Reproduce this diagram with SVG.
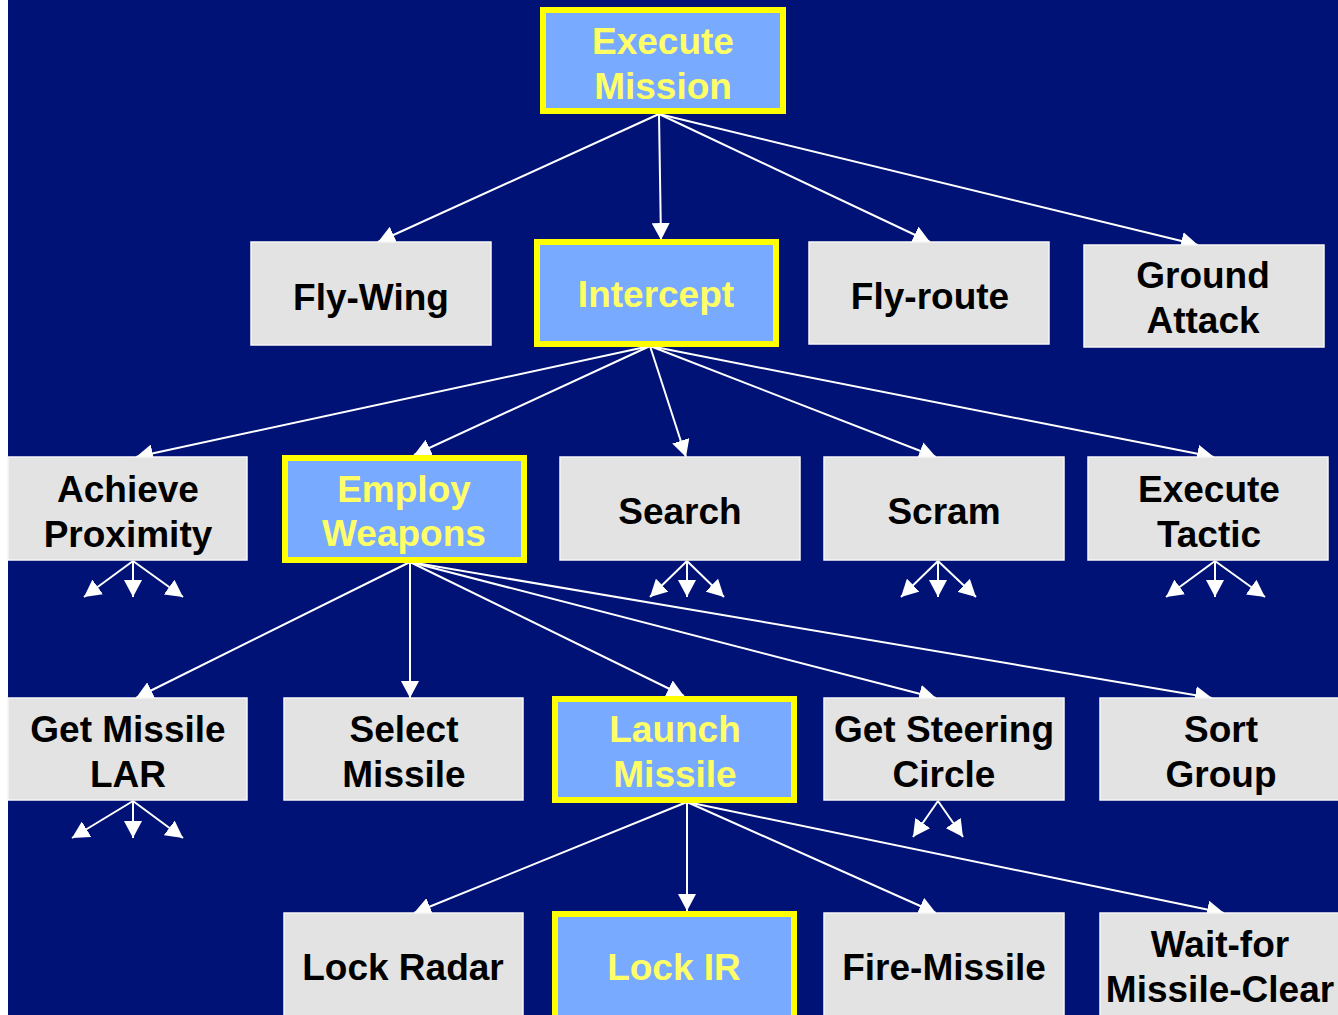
<svg xmlns="http://www.w3.org/2000/svg" width="1338" height="1015" viewBox="0 0 1338 1015">
  <style>
    .box { fill: #e3e3e3; stroke: #f6f6f6; stroke-width: 1.5; }
    .hot { fill: #78aaff; stroke: #ffff00; stroke-width: 6; }
    .lbl { font-family: "Liberation Sans", Arial, sans-serif; font-weight: bold; font-size: 37px; text-anchor: middle; fill: #000; }
    .hlbl { font-family: "Liberation Sans", Arial, sans-serif; font-weight: bold; font-size: 37px; text-anchor: middle; fill: #ffff66; }
    .edge { stroke: #ffffff; stroke-width: 2; fill: none; marker-end: url(#head); }
  </style>
  <defs>
    <marker id="head" markerUnits="userSpaceOnUse" markerWidth="18" markerHeight="18" refX="17" refY="9" orient="auto">
      <path d="M0,0 L17,9 L0,18 z" fill="#ffffff"/>
    </marker>
  </defs>

  <!-- background -->
  <rect x="0" y="0" width="1338" height="1015" fill="#ffffff"/>
  <rect x="8" y="0" width="1330" height="1015" fill="#001276"/>

  <!-- connectors -->
  <g id="connectors">
    <line class="edge" x1="659" y1="114" x2="378" y2="242"/>
    <line class="edge" x1="659" y1="114" x2="661" y2="240"/>
    <line class="edge" x1="659" y1="114" x2="930" y2="242"/>
    <line class="edge" x1="659" y1="114" x2="1198" y2="245"/>

    <line class="edge" x1="650" y1="346" x2="136" y2="457"/>
    <line class="edge" x1="650" y1="346" x2="414" y2="455"/>
    <line class="edge" x1="650" y1="346" x2="686" y2="457"/>
    <line class="edge" x1="650" y1="346" x2="936" y2="457"/>
    <line class="edge" x1="650" y1="346" x2="1214" y2="457"/>

    <line class="edge" x1="410" y1="562" x2="136" y2="698"/>
    <line class="edge" x1="410" y1="562" x2="410" y2="698"/>
    <line class="edge" x1="410" y1="562" x2="684" y2="696"/>
    <line class="edge" x1="410" y1="562" x2="936" y2="698"/>
    <line class="edge" x1="410" y1="562" x2="1212" y2="698"/>

    <line class="edge" x1="687" y1="802" x2="414" y2="913"/>
    <line class="edge" x1="687" y1="802" x2="687" y2="911"/>
    <line class="edge" x1="687" y1="802" x2="936" y2="913"/>
    <line class="edge" x1="687" y1="802" x2="1224" y2="913"/>

    <!-- fan-out stubs below collapsed nodes -->
    <line class="edge" x1="133" y1="561" x2="84" y2="597"/>
    <line class="edge" x1="133" y1="561" x2="133" y2="597"/>
    <line class="edge" x1="133" y1="561" x2="183" y2="597"/>

    <line class="edge" x1="687" y1="561" x2="650" y2="597"/>
    <line class="edge" x1="687" y1="561" x2="687" y2="597"/>
    <line class="edge" x1="687" y1="561" x2="724" y2="597"/>

    <line class="edge" x1="938" y1="561" x2="901" y2="597"/>
    <line class="edge" x1="938" y1="561" x2="938" y2="597"/>
    <line class="edge" x1="938" y1="561" x2="976" y2="597"/>

    <line class="edge" x1="1215" y1="561" x2="1166" y2="597"/>
    <line class="edge" x1="1215" y1="561" x2="1215" y2="597"/>
    <line class="edge" x1="1215" y1="561" x2="1265" y2="597"/>

    <line class="edge" x1="133" y1="801" x2="72" y2="838"/>
    <line class="edge" x1="133" y1="801" x2="133" y2="838"/>
    <line class="edge" x1="133" y1="801" x2="183" y2="838"/>

    <line class="edge" x1="938" y1="801" x2="913" y2="837"/>
    <line class="edge" x1="938" y1="801" x2="963" y2="837"/>
  </g>

  <!-- level 0 -->
  <g id="execute-mission">
    <rect class="hot" x="543" y="10" width="240" height="101"/>
    <text class="hlbl" x="663" y="54">Execute</text>
    <text class="hlbl" x="663" y="99">Mission</text>
  </g>

  <!-- level 1 -->
  <g id="fly-wing">
    <rect class="box" x="251" y="242" width="240" height="103"/>
    <text class="lbl" x="371" y="310">Fly-Wing</text>
  </g>
  <g id="intercept">
    <rect class="hot" x="537" y="242" width="239" height="102"/>
    <text class="hlbl" x="656" y="307">Intercept</text>
  </g>
  <g id="fly-route">
    <rect class="box" x="809" y="242" width="240" height="102"/>
    <text class="lbl" x="930" y="309">Fly-route</text>
  </g>
  <g id="ground-attack">
    <rect class="box" x="1084" y="245" width="240" height="102"/>
    <text class="lbl" x="1203" y="288">Ground</text>
    <text class="lbl" x="1203" y="333">Attack</text>
  </g>

  <!-- level 2 -->
  <g id="achieve-proximity">
    <rect class="box" x="8" y="457" width="239" height="103"/>
    <text class="lbl" x="128" y="502">Achieve</text>
    <text class="lbl" x="128" y="547">Proximity</text>
  </g>
  <g id="employ-weapons">
    <rect class="hot" x="285" y="458" width="239" height="102"/>
    <text class="hlbl" x="404" y="502">Employ</text>
    <text class="hlbl" x="404" y="546">Weapons</text>
  </g>
  <g id="search">
    <rect class="box" x="560" y="457" width="240" height="103"/>
    <text class="lbl" x="680" y="524">Search</text>
  </g>
  <g id="scram">
    <rect class="box" x="824" y="457" width="240" height="103"/>
    <text class="lbl" x="944" y="524">Scram</text>
  </g>
  <g id="execute-tactic">
    <rect class="box" x="1088" y="457" width="240" height="103"/>
    <text class="lbl" x="1209" y="502">Execute</text>
    <text class="lbl" x="1209" y="547">Tactic</text>
  </g>

  <!-- level 3 -->
  <g id="get-missile-lar">
    <rect class="box" x="8" y="698" width="239" height="102"/>
    <text class="lbl" x="128" y="742">Get Missile</text>
    <text class="lbl" x="128" y="787">LAR</text>
  </g>
  <g id="select-missile">
    <rect class="box" x="284" y="698" width="239" height="102"/>
    <text class="lbl" x="404" y="742">Select</text>
    <text class="lbl" x="404" y="787">Missile</text>
  </g>
  <g id="launch-missile">
    <rect class="hot" x="555" y="699" width="239" height="101"/>
    <text class="hlbl" x="675" y="742">Launch</text>
    <text class="hlbl" x="675" y="787">Missile</text>
  </g>
  <g id="get-steering-circle">
    <rect class="box" x="824" y="698" width="240" height="102"/>
    <text class="lbl" x="944" y="742">Get Steering</text>
    <text class="lbl" x="944" y="787">Circle</text>
  </g>
  <g id="sort-group">
    <rect class="box" x="1100" y="698" width="240" height="102"/>
    <text class="lbl" x="1221" y="742">Sort</text>
    <text class="lbl" x="1221" y="787">Group</text>
  </g>

  <!-- level 4 -->
  <g id="lock-radar">
    <rect class="box" x="284" y="913" width="239" height="110"/>
    <text class="lbl" x="403" y="980">Lock Radar</text>
  </g>
  <g id="lock-ir">
    <rect class="hot" x="555" y="914" width="239" height="110"/>
    <text class="hlbl" x="674" y="980">Lock IR</text>
  </g>
  <g id="fire-missile">
    <rect class="box" x="824" y="913" width="240" height="110"/>
    <text class="lbl" x="944" y="980">Fire-Missile</text>
  </g>
  <g id="wait-for-missile-clear">
    <rect class="box" x="1100" y="913" width="240" height="110"/>
    <text class="lbl" x="1220" y="957">Wait-for</text>
    <text class="lbl" x="1220" y="1002">Missile-Clear</text>
  </g>
</svg>
